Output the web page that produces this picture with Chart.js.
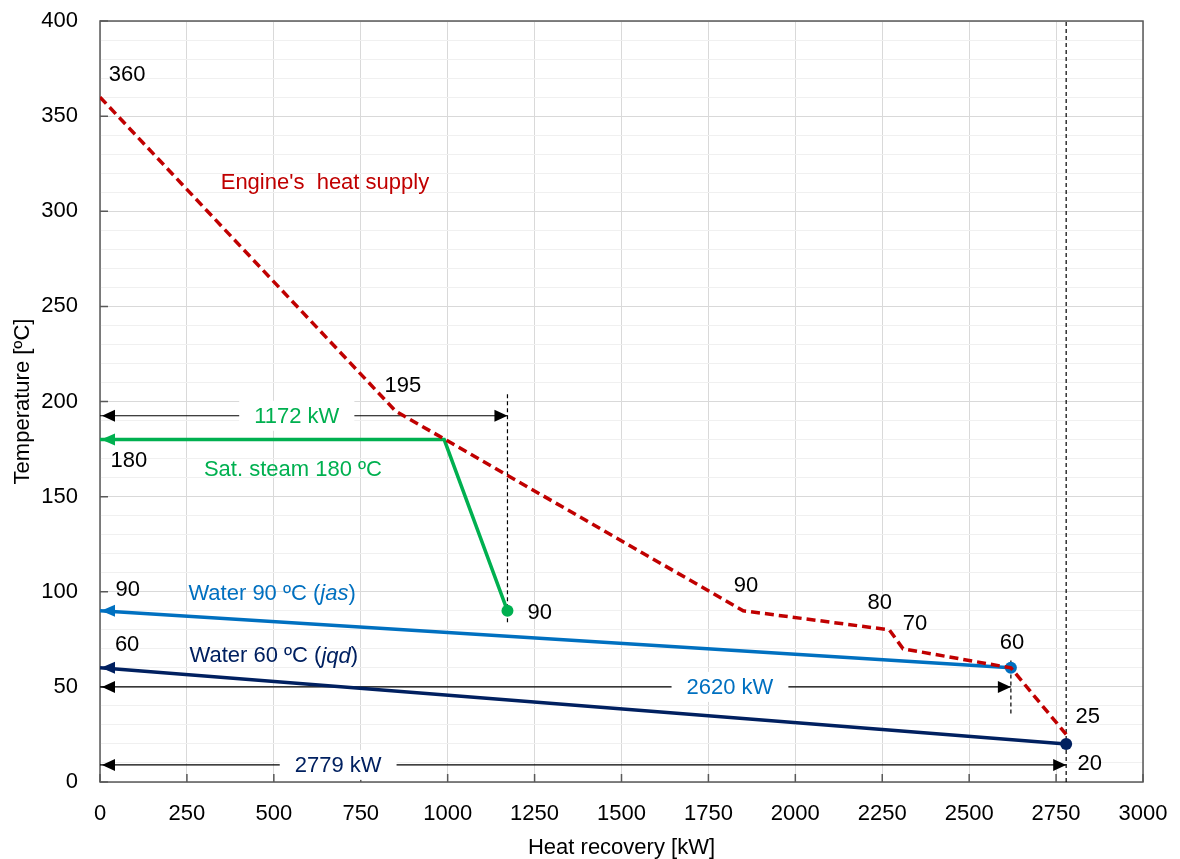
<!DOCTYPE html>
<html>
<head>
<meta charset="utf-8">
<script src="https://cdn.jsdelivr.net/npm/chart.js@4.4.1/dist/chart.umd.min.js"></script>
<style>
  html, body { margin: 0; padding: 0; background: #fff; }
  #wrap { width: 1180px; height: 859px; }
</style>
</head>
<body>
<div id="wrap"><canvas id="chart" width="1180" height="859"></canvas></div>
<script>
// heat supply curve of the engine
const engineX = [0, 850, 1850, 2270, 2310, 2620, 2779];
const engineY = [360, 195, 90, 80, 70, 60, 25];
// demand curves
const steamX = [0, 990, 1172];
const steamY = [180, 180, 90];
const water90X = [0, 2620];
const water90Y = [90, 60];
const water60X = [0, 2779];
const water60Y = [60, 20];
// dimension arrows
const dimValues = [1172, 2620, 2779];
const dimLevels = [192.5, 50, 9];
const dimLabels = ['1172 kW', '2620 kW', '2779 kW'];
const guideLow = [84, 36, 0];
const guideHigh = [205, 65, 400];
// ticks
const xTicks = [0, 250, 500, 750, 1000, 1250, 1500, 1750, 2000, 2250, 2500, 2750, 3000];
const yTicks = [0, 50, 100, 150, 200, 250, 300, 350, 400];

const RED = '#C00000', GREEN = '#00B050', BLUE = '#0070C0', NAVY = '#002060';
const FONT = '"Liberation Sans", Arial, sans-serif';

const pts = (xs, ys) => xs.map((x, i) => ({ x: x, y: ys[i] }));

// value labels next to the curves
const valueLabels = [
  ['360', 78, 371.6], ['195', 871, 208], ['180', 83, 169], ['90', 80, 101],
  ['60', 78, 72], ['90', 1265, 88.8], ['90', 1858, 103], ['80', 2243, 94],
  ['70', 2344, 83], ['60', 2623, 73], ['25', 2841, 34], ['20', 2847, 9.5]
];
const seriesLabels = [
  { parts: [["Engine's  heat supply", false]], x: 647, y: 315, color: RED },
  { parts: [['Sat. steam 180 ºC', false]], x: 555, y: 164, color: GREEN },
  { parts: [['Water 90 ºC (', false], ['jas', true], [')', false]], x: 495, y: 99, color: BLUE },
  { parts: [['Water 60 ºC (', false], ['jqd', true], [')', false]], x: 500, y: 66, color: NAVY }
];
const dimColors = [GREEN, BLUE, NAVY];
const dimTextX = [566, 1812, 685];

const datasets = [
  { label: 'engine', data: pts(engineX, engineY), borderColor: RED, borderWidth: 3.5,
    borderDash: [9, 5], pointRadius: 0, order: 1 },
  { label: 'steam', data: pts(steamX, steamY), borderColor: GREEN, borderWidth: 3.5,
    pointRadius: [0, 0, 6], pointBackgroundColor: GREEN, pointBorderWidth: 0, order: 2 },
  { label: 'water90', data: pts(water90X, water90Y), borderColor: BLUE, borderWidth: 3.5,
    pointRadius: [0, 6], pointBackgroundColor: BLUE, pointBorderWidth: 0, order: 3 },
  { label: 'water60', data: pts(water60X, water60Y), borderColor: NAVY, borderWidth: 3.5,
    pointRadius: [0, 6], pointBackgroundColor: NAVY, pointBorderWidth: 0, order: 4 }
];
dimValues.forEach((v, i) => {
  datasets.push({ label: 'dim' + i, data: [{ x: 0, y: dimLevels[i] }, { x: v, y: dimLevels[i] }],
    borderColor: '#000', borderWidth: 1.2, pointRadius: 0, order: 10 });
  datasets.push({ label: 'guide' + i, data: [{ x: v, y: guideLow[i] }, { x: v, y: guideHigh[i] }],
    borderColor: '#000', borderWidth: 1.2, borderDash: [4, 3], pointRadius: 0, order: 11 });
});

function arrowHead(ctx, x, y, dir, len, half, color) {
  ctx.save();
  ctx.fillStyle = color;
  ctx.beginPath();
  ctx.moveTo(x, y);
  ctx.lineTo(x - dir * len, y - half);
  ctx.lineTo(x - dir * len, y + half);
  ctx.closePath();
  ctx.fill();
  ctx.restore();
}

const decorations = {
  id: 'decorations',
  beforeDatasetsDraw(chart) {
    const { ctx, chartArea: a, scales: { x, y } } = chart;
    ctx.save();
    ctx.strokeStyle = '#595959';
    ctx.lineWidth = 1.5;
    ctx.beginPath();
    xTicks.forEach(v => { const px = x.getPixelForValue(v); ctx.moveTo(px, a.bottom); ctx.lineTo(px, a.bottom - 8); });
    yTicks.forEach(v => { const py = y.getPixelForValue(v); ctx.moveTo(a.left, py); ctx.lineTo(a.left + 8, py); });
    ctx.stroke();
    ctx.strokeRect(a.left, a.top, a.right - a.left, a.bottom - a.top);
    ctx.restore();
  },
  afterDatasetsDraw(chart) {
    const { ctx, scales: { x, y } } = chart;
    ctx.save();
    ctx.font = '22px ' + FONT;
    ctx.textBaseline = 'middle';
    // arrowheads on demand curves
    [[steamY[0], GREEN], [water90Y[0], BLUE], [water60Y[0], NAVY]].forEach(([v, c]) => {
      arrowHead(ctx, x.getPixelForValue(0) + 1, y.getPixelForValue(v), -1, 14, 6, c);
    });
    // dimension arrows with boxed labels
    dimValues.forEach((v, i) => {
      const py = y.getPixelForValue(dimLevels[i]);
      arrowHead(ctx, x.getPixelForValue(0) + 2, py, -1, 13, 6, '#000');
      arrowHead(ctx, x.getPixelForValue(v), py, 1, 13, 6, '#000');
      const cx = x.getPixelForValue(dimTextX[i]);
      const w = ctx.measureText(dimLabels[i]).width;
      ctx.fillStyle = '#fff';
      ctx.fillRect(cx - w / 2 - 15, py - 15, w + 30, 30);
      ctx.fillStyle = dimColors[i];
      ctx.textAlign = 'center';
      ctx.fillText(dimLabels[i], cx, py + 1);
    });
    // value labels
    ctx.fillStyle = '#000';
    ctx.textAlign = 'center';
    valueLabels.forEach(([t, vx, vy]) => ctx.fillText(t, x.getPixelForValue(vx), y.getPixelForValue(vy)));
    // series labels (with italic parts)
    seriesLabels.forEach(l => {
      const widths = l.parts.map(([t, it]) => { ctx.font = (it ? 'italic ' : '') + '22px ' + FONT; return ctx.measureText(t).width; });
      let px = x.getPixelForValue(l.x) - widths.reduce((s, w) => s + w, 0) / 2;
      ctx.textAlign = 'left';
      ctx.fillStyle = l.color;
      l.parts.forEach(([t, it], k) => {
        ctx.font = (it ? 'italic ' : '') + '22px ' + FONT;
        ctx.fillText(t, px, y.getPixelForValue(l.y));
        px += widths[k];
      });
    });
    ctx.restore();
  }
};

new Chart(document.getElementById('chart'), {
  type: 'scatter',
  data: { datasets: datasets.map(d => Object.assign({ showLine: true, fill: false, tension: 0 }, d)) },
  options: {
    responsive: false,
    animation: false,
    events: [],
    layout: { padding: { top: 21, right: 37, left: 0, bottom: 0 } },
    plugins: { legend: { display: false }, tooltip: { enabled: false } },
    scales: {
      x: {
        min: 0, max: 3000,
        afterFit: s => { s.height = 77; s.paddingLeft = 0; s.paddingRight = 0; },
        afterBuildTicks: s => { s.ticks = xTicks.map(v => ({ value: v })); },
        ticks: { font: { family: FONT, size: 22 }, color: '#000', padding: 19, maxRotation: 0,
          autoSkip: false, callback: v => String(v) },
        grid: { color: '#d9d9d9', lineWidth: 1, drawTicks: false },
        border: { display: false },
        title: { display: true, text: 'Heat recovery [kW]', color: '#000',
          font: { family: FONT, size: 22, lineHeight: 1 }, padding: { top: 0, bottom: 0 } }
      },
      y: {
        min: 0, max: 400,
        afterFit: s => { s.width = 100; s.paddingTop = 0; s.paddingBottom = 0; },
        ticks: { stepSize: 10, autoSkip: false, maxTicksLimit: 100, font: { family: FONT, size: 22 },
          color: '#000', padding: 22, callback: v => (v % 50 === 0 ? String(v) : '') },
        grid: { color: c => (c.tick && c.tick.value % 50 === 0 ? '#d9d9d9' : '#f0f0f0'), lineWidth: 1, drawTicks: false },
        border: { display: false },
        title: { display: true, text: 'Temperature [ºC]', color: '#000',
          font: { family: FONT, size: 22, lineHeight: 1 }, padding: { top: 12, bottom: 0 } }
      }
    }
  },
  plugins: [decorations]
});
</script>
</body>
</html>
